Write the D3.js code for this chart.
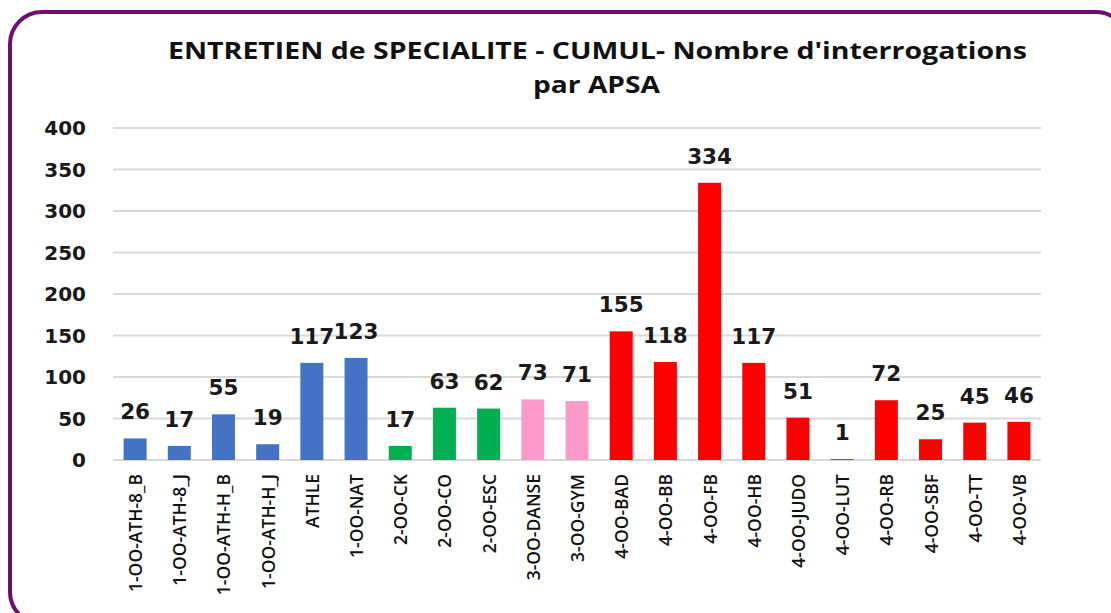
<!DOCTYPE html>
<html><head><meta charset="utf-8">
<script src="https://cdn.jsdelivr.net/npm/d3@7"></script>
<style>body{margin:0;background:#fff}svg{display:block}</style>
</head><body>
<svg id="c" width="1111" height="613"></svg>
<script>
const categories = ["1-OO-ATH-8_B","1-OO-ATH-8_J","1-OO-ATH-H_B","1-OO-ATH-H_J","ATHLE","1-OO-NAT","2-OO-CK","2-OO-CO","2-OO-ESC","3-OO-DANSE","3-OO-GYM","4-OO-BAD","4-OO-BB","4-OO-FB","4-OO-HB","4-OO-JUDO","4-OO-LUT","4-OO-RB","4-OO-SBF","4-OO-TT","4-OO-VB"];
const values = [26,17,55,19,117,123,17,63,62,73,71,155,118,334,117,51,1,72,25,45,46];
const groups = ["1","1","1","1","1","1","2","2","2","3","3","4","4","4","4","4","4","4","4","4","4"];
const groupColors = {"1":"#4472C4","2":"#00B050","3":"#FF99CC","4":"#FF0000"};
const yTicks = [0,50,100,150,200,250,300,350,400];
const titleLines = ["ENTRETIEN de SPECIALITE  - CUMUL- Nombre d'interrogations","par APSA"];

(function(){
const svg = d3.select("#c");
svg.append("rect").attr("x",10).attr("y",12).attr("width",1118).attr("height",612)
  .attr("rx",32).attr("fill","#fff").attr("stroke","#6E0E6E").attr("stroke-width",4);

const pL=113, pR=1041, pT=128, pB=460;
const x = d3.scaleBand().domain(categories).range([pL,pR]).paddingInner(0.48).paddingOuter(0.24);
const y = d3.scaleLinear().domain([0,400]).range([pB,pT]);

svg.append("g").selectAll("line").data(yTicks).join("line")
  .attr("x1",pL).attr("x2",pR).attr("y1",d=>y(d)).attr("y2",d=>y(d))
  .attr("stroke","#D9D9D9").attr("stroke-width",2);

svg.append("g").selectAll("text").data(yTicks).join("text")
  .attr("x",86).attr("y",d=>y(d)).attr("dy","0.36em").attr("text-anchor","end")
  .attr("font-family","DejaVu Sans").attr("font-weight","bold").attr("font-size",20).attr("fill","#1a1a1a")
  .text(d=>d);

svg.append("g").selectAll("rect").data(values).join("rect")
  .attr("x",(d,i)=>x(categories[i])).attr("width",x.bandwidth())
  .attr("y",d=>y(d)).attr("height",d=>y(0)-y(d))
  .attr("fill",(d,i)=>groupColors[groups[i]]);

svg.append("g").selectAll("text").data(values).join("text")
  .attr("x",(d,i)=>x(categories[i])+x.bandwidth()/2).attr("y",d=>y(d)-19)
  .attr("text-anchor","middle")
  .attr("font-family","DejaVu Sans").attr("font-weight","bold").attr("font-size",21.5).attr("fill","#1a1a1a")
  .text(d=>d);

svg.append("g").selectAll("text").data(categories).join("text")
  .attr("transform",d=>`translate(${x(d)+x.bandwidth()/2+7},474) rotate(-90)`)
  .attr("text-anchor","end")
  .attr("font-family","Open Sans").attr("font-weight",600).attr("font-size",17.5).attr("fill","#111")
  .text(d=>d);

const tW=[859,127], tX=[597.5,596.5], tY=[59,93];
svg.append("g").selectAll("text").data(titleLines).join("text")
  .attr("x",(d,i)=>tX[i]).attr("y",(d,i)=>tY[i]).attr("text-anchor","middle")
  .attr("textLength",(d,i)=>tW[i]).attr("lengthAdjust","spacingAndGlyphs")
  .attr("font-family","Open Sans").attr("font-weight","bold").attr("font-size",23).attr("fill","#111")
  .text(d=>d);
})();
</script>
</body></html>
